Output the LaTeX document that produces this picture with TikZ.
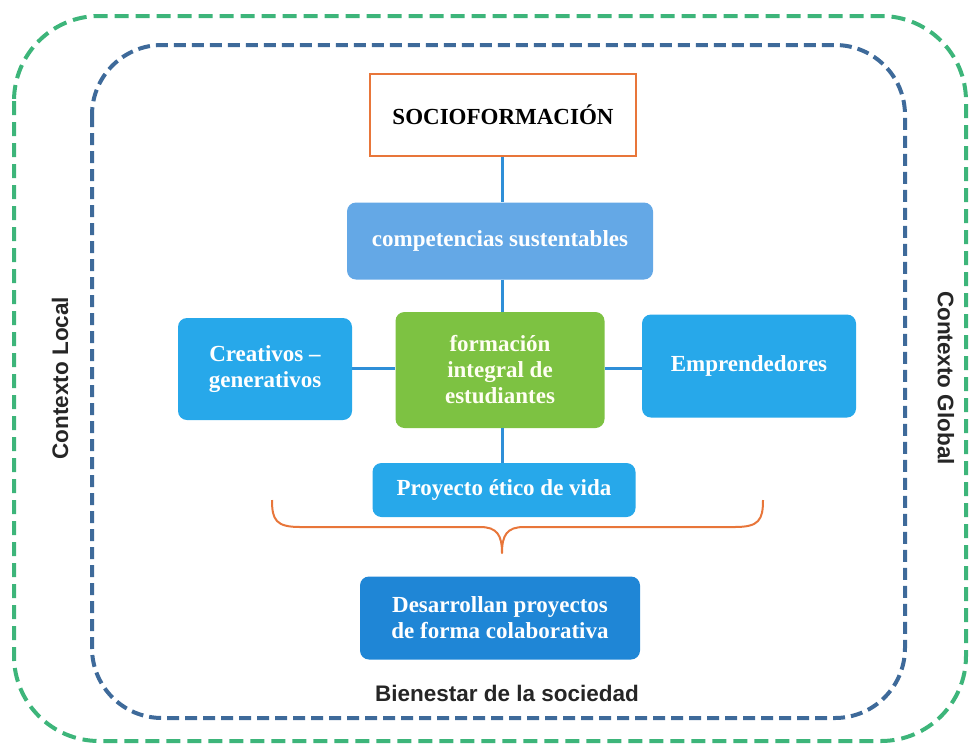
\documentclass[tikz,border=0pt]{standalone}
\usepackage{fontspec}
\setmainfont{Liberation Serif}
\setsansfont{Liberation Sans}
\definecolor{gframe}{HTML}{3DB57A}
\definecolor{bframe}{HTML}{3E6A9A}
\definecolor{orangeb}{HTML}{E8763A}
\definecolor{linkb}{HTML}{2E8FD8}
\definecolor{compb}{HTML}{64A8E6}
\definecolor{skyb}{HTML}{27A8EA}
\definecolor{greenb}{HTML}{7DC242}
\definecolor{deepb}{HTML}{1F86D6}
\tikzset{
  box/.style={rounded corners=9pt, text=white, align=center, font=\bfseries\fontsize{23}{26}\selectfont, inner sep=0pt},
  link/.style={draw=linkb, line width=3pt},
  lab/.style={font=\sffamily\bfseries\fontsize{22.5}{26}\selectfont, text=black!85},
}
\begin{document}
\begin{tikzpicture}[x=1pt,y=-1pt]
\useasboundingbox (0,0) rectangle (969,745);
\draw[gframe, line width=4pt, dash pattern=on 14pt off 7pt, rounded corners=85pt] (14,16) rectangle (966,741);
\draw[bframe, line width=4pt, dash pattern=on 12pt off 6pt, rounded corners=70pt] (92,45) rectangle (905,718);

\node[draw=orangeb, line width=2pt, fill=white, minimum width=266pt, minimum height=82pt, font=\bfseries\fontsize{23}{26}\selectfont] (socio) at (503,115) {SOCIOFORMACIÓN};
\node[box, fill=compb, minimum width=306pt, minimum height=77pt] (comp) at (500,241) {competencias sustentables};
\node[box, fill=greenb, minimum width=209pt, minimum height=116pt, text=white!95!yellow] (form) at (500,370) {formación\\integral de\\estudiantes};
\node[box, fill=skyb, minimum width=174pt, minimum height=102pt] (crea) at (265,369) {Creativos --\\generativos};
\node[box, fill=skyb, minimum width=214pt, minimum height=103pt] (empr) at (749,366) {Emprendedores};
\node[box, fill=skyb, minimum width=263pt, minimum height=54pt] (proy) at (504,490) {Proyecto ético de vida};
\node[box, fill=deepb, minimum width=280pt, minimum height=83pt] (desa) at (500,618) {Desarrollan proyectos\\de forma colaborativa};

\draw[link] (socio.south -| 502,0) -- (comp.north -| 502,0);
\draw[link] (comp.south -| 502,0) -- (form.north -| 502,0);
\draw[link] (form.south -| 502,0) -- (proy.north -| 502,0);
\draw[link] (crea.east |- 0,368) -- (form.west |- 0,368);
\draw[link] (form.east |- 0,368) -- (empr.west |- 0,368);

\coordinate (bl) at (272,500);
\coordinate (br) at (763,500);
\draw[orangeb, line width=2pt, line join=round] (bl) .. controls (272,520) and (276,527) .. (300,527) -- (480,527) .. controls (497,527) and (502,535) .. (502,553) .. controls (502,535) and (507,527) .. (524,527) -- (735,527) .. controls (759,527) and (763,520) .. (br);

\node[lab] (bien) at (507,693) {Bienestar de la sociedad};
\node[lab, rotate=90] (cloc) at (60,378) {Contexto Local};
\node[lab, rotate=-90] (cglo) at (946,378) {Contexto Global};
\end{tikzpicture}
\end{document}
